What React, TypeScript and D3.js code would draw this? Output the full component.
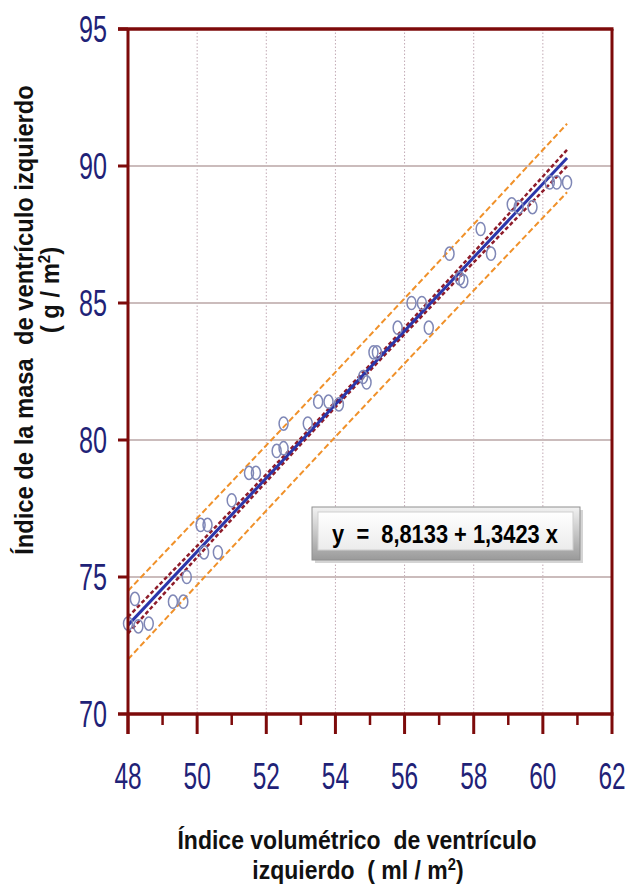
import { useEffect, useRef } from 'react'
import * as d3 from 'd3'

// Índice volumétrico (ml/m2) vs Índice de masa (g/m2)
const volIndex = [
  48.0, 48.3, 48.6, 48.2, 49.3, 49.6, 49.7, 50.1, 50.3, 50.2,
  50.6, 51.0, 51.5, 51.7, 52.3, 52.5, 52.5, 53.2, 53.5, 53.8,
  54.1, 54.8, 54.9, 55.1, 55.2, 55.8, 56.2, 56.5, 56.7, 57.3,
  57.6, 57.7, 58.2, 58.5, 59.1, 59.3, 59.7, 60.2, 60.4, 60.7,
]
const massIndex = [
  73.3, 73.2, 73.3, 74.2, 74.1, 74.1, 75.0, 76.9, 76.9, 75.9,
  75.9, 77.8, 78.8, 78.8, 79.6, 79.7, 80.6, 80.6, 81.4, 81.4,
  81.3, 82.3, 82.1, 83.2, 83.2, 84.1, 85.0, 85.0, 84.1, 86.8,
  85.9, 85.8, 87.7, 86.8, 88.6, 88.5, 88.5, 89.4, 89.4, 89.4,
]

const xTicks = [48, 50, 52, 54, 56, 58, 60, 62]
const xMinorTicks = [49, 51, 53, 55, 57, 59, 61]
const yTicks = [70, 75, 80, 85, 90, 95]

const intercept = 8.8133
const slope = 1.3423
const fitRange = [48, 60.7]
// band half widths (in y units) at start, centre and end of the fit
const bandX = [48, 54.3, 60.7]
const confHalf = [0.3, 0.1, 0.3]
const predHalf = [1.25, 1.18, 1.25]

const equation = 'y  =  8,8133 + 1,3423 x'

export default function App() {
  const ref = useRef<SVGSVGElement>(null)

  useEffect(() => {
    const W = 626
    const H = 888
    const m = { left: 128, right: 612, top: 29, bottom: 714 }
    const axisColor = '#7d0a0a'
    const tickColor = '#1f2277'

    const svg = d3.select(ref.current)
    svg.selectAll('*').remove()

    const x = d3.scaleLinear().domain([48, 62]).range([m.left, m.right])
    const y = d3.scaleLinear().domain([70, 95]).range([m.bottom, m.top])

    const defs = svg.append('defs')
    const g1 = defs.append('linearGradient').attr('id', 'bevel').attr('x1', 0).attr('y1', 0).attr('x2', 0).attr('y2', 1)
    g1.append('stop').attr('offset', '0%').attr('stop-color', '#f2f2f2')
    g1.append('stop').attr('offset', '100%').attr('stop-color', '#9a9a9a')
    const g2 = defs.append('linearGradient').attr('id', 'face').attr('x1', 0).attr('y1', 0).attr('x2', 0).attr('y2', 1)
    g2.append('stop').attr('offset', '0%').attr('stop-color', '#ffffff')
    g2.append('stop').attr('offset', '100%').attr('stop-color', '#ececec')

    svg.append('rect').attr('width', W).attr('height', H).attr('fill', '#fff')

    // grid
    svg.append('g').selectAll('line')
      .data(xTicks.slice(1, -1))
      .join('line')
      .attr('x1', d => x(d)).attr('x2', d => x(d))
      .attr('y1', m.top).attr('y2', m.bottom)
      .attr('stroke', '#c2aab5').attr('stroke-width', 1).attr('stroke-dasharray', '1.5 2')

    svg.append('g').selectAll('line')
      .data(yTicks.slice(1, -1))
      .join('line')
      .attr('x1', m.left).attr('x2', m.right)
      .attr('y1', d => y(d)).attr('y2', d => y(d))
      .attr('stroke', '#cbbcbc').attr('stroke-width', 2)

    // bands and fit
    const band = (half: number[], sign: number) =>
      d3.line<number>()
        .x(d => x(d))
        .y((d, i) => y(intercept + slope * d + sign * half[i]))
        .curve(d3.curveNatural)(bandX)

    for (const s of [1, -1]) {
      svg.append('path').attr('d', band(predHalf, s)).attr('fill', 'none')
        .attr('stroke', '#f0912a').attr('stroke-width', 2).attr('stroke-dasharray', '6 3')
    }
    for (const s of [1, -1]) {
      svg.append('path').attr('d', band(confHalf, s)).attr('fill', 'none')
        .attr('stroke', '#8e1c2a').attr('stroke-width', 2.5).attr('stroke-dasharray', '4 2.5')
    }
    svg.append('line')
      .attr('x1', x(fitRange[0])).attr('y1', y(intercept + slope * fitRange[0]))
      .attr('x2', x(fitRange[1])).attr('y2', y(intercept + slope * fitRange[1]))
      .attr('stroke', '#2b36aa').attr('stroke-width', 3)

    // points
    svg.append('g').selectAll('ellipse')
      .data(d3.range(volIndex.length))
      .join('ellipse')
      .attr('cx', i => x(volIndex[i]))
      .attr('cy', i => y(massIndex[i]))
      .attr('rx', 4.5).attr('ry', 6.6)
      .attr('fill', 'none').attr('stroke', '#7f87b6').attr('stroke-width', 1.5)

    // frame and axes
    const frame = svg.append('g').attr('stroke', axisColor).attr('fill', 'none')
    frame.append('line').attr('x1', m.left - 10).attr('x2', m.right + 1.5).attr('y1', m.top).attr('y2', m.top).attr('stroke-width', 3.5)
    frame.append('line').attr('x1', m.right).attr('x2', m.right).attr('y1', m.top).attr('y2', m.bottom).attr('stroke-width', 3)
    frame.append('line').attr('x1', m.left).attr('x2', m.left).attr('y1', m.top).attr('y2', m.bottom + 20).attr('stroke-width', 3)
    frame.append('line').attr('x1', m.left - 10).attr('x2', m.right + 1.5).attr('y1', m.bottom).attr('y2', m.bottom).attr('stroke-width', 3.5)

    frame.selectAll('line.yt').data(yTicks.slice(1)).join('line').attr('class', 'yt')
      .attr('x1', m.left - 10).attr('x2', m.left).attr('y1', d => y(d)).attr('y2', d => y(d)).attr('stroke-width', 3)
    frame.selectAll('line.xt').data(xTicks).join('line').attr('class', 'xt')
      .attr('x1', d => x(d)).attr('x2', d => x(d)).attr('y1', m.bottom).attr('y2', m.bottom + 20).attr('stroke-width', 3)
    frame.selectAll('line.xm').data(xMinorTicks).join('line').attr('class', 'xm')
      .attr('x1', d => x(d)).attr('x2', d => x(d)).attr('y1', m.bottom).attr('y2', m.bottom + 11).attr('stroke-width', 2.5)

    // tick labels
    const narrow = 'Liberation Sans, Arial, sans-serif'
    svg.append('g').selectAll('g')
      .data(yTicks)
      .join('g')
      .attr('transform', d => `translate(107,${y(d) + 13})`)
      .append('text')
      .attr('transform', 'scale(0.68,1)')
      .attr('text-anchor', 'end')
      .attr('font-family', narrow).attr('font-size', 37).attr('fill', tickColor)
      .text(d => d)

    svg.append('g').selectAll('g')
      .data(xTicks)
      .join('g')
      .attr('transform', d => `translate(${x(d)},789)`)
      .append('text')
      .attr('transform', 'scale(0.66,1)')
      .attr('text-anchor', 'middle')
      .attr('font-family', narrow).attr('font-size', 37).attr('fill', tickColor)
      .text(d => d)

    // axis titles
    const title = (tx: number, ty: number, rot: number, sx: number, text: string, sup?: string) => {
      const t = svg.append('g').attr('transform', `translate(${tx},${ty}) rotate(${rot}) scale(${sx},1)`)
      const txt = t.append('text').attr('text-anchor', 'middle')
        .attr('font-family', narrow).attr('font-weight', 'bold').attr('font-size', 25).attr('fill', '#111')
        .style('white-space', 'pre')
      txt.append('tspan').text(text)
      if (sup) {
        txt.append('tspan').attr('font-size', 16).attr('dy', -9).text(sup)
        txt.append('tspan').attr('dy', 9).text(')')
      }
    }
    title(357, 849, 0, 0.92, 'Índice volumétrico  de ventrículo')
    title(358, 879, 0, 0.92, 'izquierdo  ( ml / m', '2')
    title(33, 320, -90, 0.95, 'Índice de la masa  de ventrículo izquierdo')
    title(59, 290, -90, 0.95, '( g / m', '2')

    // equation box
    const box = svg.append('g')
    box.append('rect').attr('x', 315).attr('y', 510).attr('width', 268).attr('height', 53).attr('fill', '#d4d4d4')
    box.append('rect').attr('x', 312).attr('y', 507).attr('width', 268).attr('height', 53)
      .attr('fill', 'url(#bevel)').attr('stroke', '#8f8f8f').attr('stroke-width', 1)
    box.append('rect').attr('x', 318).attr('y', 512).attr('width', 255).attr('height', 38)
      .attr('fill', 'url(#face)').attr('stroke', '#cfcfcf').attr('stroke-width', 1)
    box.append('g').attr('transform', 'translate(445,543) scale(0.84,1)')
      .append('text').attr('text-anchor', 'middle')
      .attr('font-family', narrow).attr('font-weight', 'bold').attr('font-size', 26).attr('fill', '#000')
      .style('white-space', 'pre')
      .text(equation)
  }, [])

  return (
    <div style={{ position: 'absolute', left: 0, top: 0 }}>
      <svg ref={ref} width={626} height={888} style={{ display: 'block' }} />
    </div>
  )
}
